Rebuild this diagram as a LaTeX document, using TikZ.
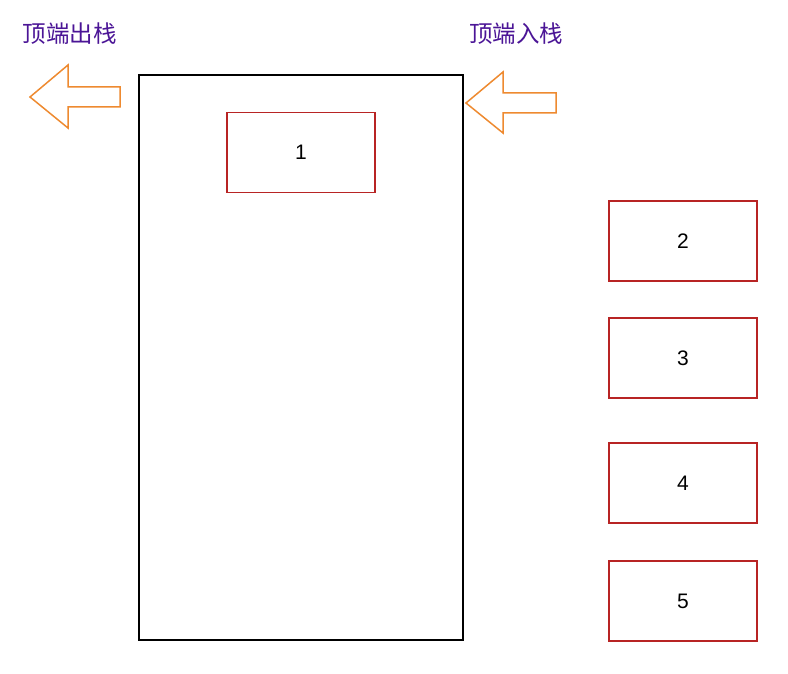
\documentclass[tikz,border=0pt]{standalone}
\usepackage{fontspec}
\setmainfont{Liberation Sans}
\newfontfamily\cjk{Noto Sans CJK SC}
\usetikzlibrary{positioning}
\definecolor{boxred}{HTML}{B82424}
\definecolor{arroworange}{HTML}{EE8A30}
\definecolor{labelpurple}{HTML}{4B1596}
\begin{document}
\begin{tikzpicture}[x=1pt, y=-1pt,
        item/.style={draw=boxred, line width=1.5pt, minimum width=148pt, minimum height=80pt, inner sep=0pt, font=\fontsize{21}{24}\selectfont},
        title/.style={text=labelpurple, font=\cjk\fontsize{23.5}{26}\selectfont, inner sep=0pt},
        blockarrow/.style={draw=arroworange, line width=1.5pt, fill=white}]
        \useasboundingbox (0,0) rectangle (788,674);
        % stack container
        \node[draw, line width=1.5pt, minimum width=324pt, minimum height=565pt, inner sep=0pt] (stack) at (301,357.5) {};
        \node[item] (I1) at (301,152.5) {1};
        \node[item] (I2) at (683,241) {2};
        \node[item] (I3) at (683,358) {3};
        \node[item] (I4) at (683,483) {4};
        \node[item] (I5) at (683,601) {5};

        \node[title] (pop) at (70,34) {顶端出栈};
        \node[title] (push) at (516,34) {顶端入栈};

        % block arrows
        \draw[blockarrow] (30,97) -- (68,65) -- (68,87) -- (120,87) -- (120,107) -- (68,107) -- (68,128) -- cycle;
        \draw[blockarrow] (466,103) -- (503,72) -- (503,93) -- (556,93) -- (556,113) -- (503,113) -- (503,133) -- cycle;
    \end{tikzpicture}
\end{document}
